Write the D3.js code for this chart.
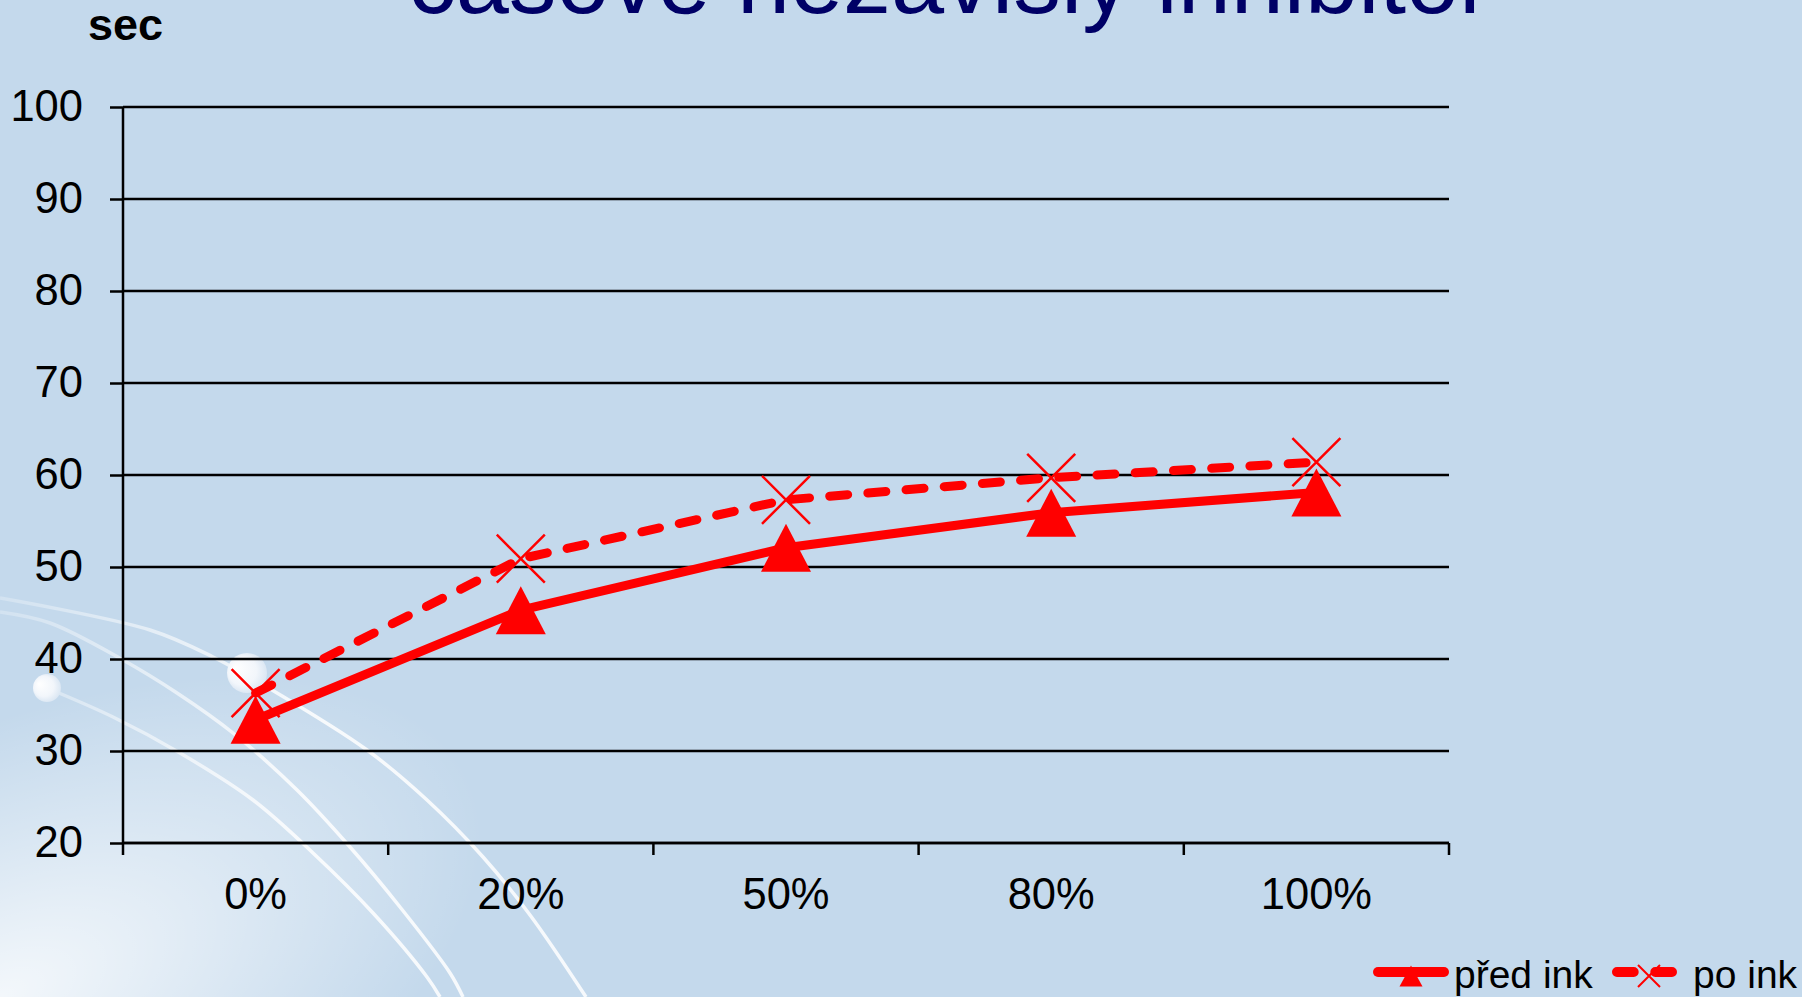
<!DOCTYPE html>
<html>
<head>
<meta charset="utf-8">
<script src="https://cdn.jsdelivr.net/npm/d3@7"></script>
<style>
  html, body { margin: 0; padding: 0; overflow: hidden; background: #C4D9EC; }
  svg { display: block; }
  text { font-family: "Liberation Sans", Arial, sans-serif; }
</style>
</head>
<body>
<svg id="chart" width="1802" height="997"></svg>
<script>
// ---- data ----
const categories = ["0%", "20%", "50%", "80%", "100%"];
const predInk = [33.4, 45.3, 52.1, 55.9, 58.1];
const poInk = [36.3, 50.9, 57.3, 59.7, 61.4];
const yTicks = [20, 30, 40, 50, 60, 70, 80, 90, 100];
const seriesNames = ["před ink", "po ink"];
const titleText = "časově nezávislý inhibitor";
const yUnit = "sec";

// ---- layout ----
const W = 1802, H = 997;
const plot = { left: 123, right: 1449, top: 107, bottom: 843 };
const red = "#FF0000";
const tickFont = 43.5;

const svg = d3.select("#chart");
const defs = svg.append("defs");

// background
svg.append("rect").attr("width", W).attr("height", H).attr("fill", "#C4D9EC");

// soft light corner at bottom-left
const glow = defs.append("radialGradient")
  .attr("id", "cornerGlow")
  .attr("gradientUnits", "userSpaceOnUse")
  .attr("cx", 0).attr("cy", 0).attr("r", 1)
  .attr("gradientTransform", `translate(0,${H}) rotate(-25) scale(520,260)`);
glow.append("stop").attr("offset", 0).attr("stop-color", "#ffffff").attr("stop-opacity", 0.8);
glow.append("stop").attr("offset", 0.55).attr("stop-color", "#ffffff").attr("stop-opacity", 0.35);
glow.append("stop").attr("offset", 1).attr("stop-color", "#ffffff").attr("stop-opacity", 0);
svg.append("rect").attr("width", W).attr("height", H).attr("fill", "url(#cornerGlow)");

// decorative swooshes of the slide background
const swooshes = [
  [[0, 598], [150, 630], [213, 657], [267, 687], [367, 750], [427, 800], [483, 857], [530, 915], [586, 997]],
  [[0, 612], [50, 623], [123, 660], [177, 693], [233, 733], [297, 790], [350, 847], [400, 907], [450, 973], [463, 997]],
  [[47, 688], [113, 717], [180, 753], [253, 800], [313, 853], [373, 913], [427, 977], [440, 997]]
];
const swooshLine = d3.line().curve(d3.curveCatmullRom.alpha(0.5));
const swooshGrad = defs.append("linearGradient").attr("id", "swooshFade")
  .attr("gradientUnits", "userSpaceOnUse").attr("x1", 0).attr("y1", 0).attr("x2", 300).attr("y2", 0);
swooshGrad.append("stop").attr("offset", 0).attr("stop-color", "#ffffff").attr("stop-opacity", 0.25);
swooshGrad.append("stop").attr("offset", 1).attr("stop-color", "#ffffff").attr("stop-opacity", 0.85);
svg.append("g").selectAll("path").data(swooshes).join("path")
  .attr("d", d => swooshLine(d))
  .attr("fill", "none")
  .attr("stroke", "url(#swooshFade)")
  .attr("stroke-width", 3.5);

// small glossy spots
const spot = defs.append("radialGradient").attr("id", "spot")
  .attr("cx", 0.5).attr("cy", 0.5).attr("r", 0.6).attr("fx", 0.2).attr("fy", 0.35);
spot.append("stop").attr("offset", 0).attr("stop-color", "#ffffff");
spot.append("stop").attr("offset", 0.6).attr("stop-color", "#f2f6fb");
spot.append("stop").attr("offset", 1).attr("stop-color", "#d2e1f0");
svg.append("ellipse").attr("cx", 47).attr("cy", 688).attr("rx", 14).attr("ry", 14).attr("fill", "url(#spot)");
svg.append("ellipse").attr("cx", 247).attr("cy", 673).attr("rx", 20).attr("ry", 20).attr("fill", "url(#spot)");

// title (partly above the visible area)
svg.append("text")
  .attr("x", 408).attr("y", 13)
  .attr("font-size", 95.5)
  .attr("fill", "#000066")
  .text(titleText);

// unit label
svg.append("text")
  .attr("x", 88).attr("y", 40)
  .attr("font-size", 45)
  .attr("font-weight", "bold")
  .attr("fill", "#000")
  .text(yUnit);

// ---- scales ----
const x = d3.scaleBand().domain(categories).range([plot.left, plot.right]).padding(0);
const y = d3.scaleLinear().domain([20, 100]).range([plot.bottom, plot.top]);
const cx = c => x(c) + x.bandwidth() / 2;

// gridlines
svg.append("g").selectAll("line").data(yTicks).join("line")
  .attr("x1", plot.left).attr("x2", plot.right)
  .attr("y1", d => y(d)).attr("y2", d => y(d))
  .attr("stroke", "#000").attr("stroke-width", 2.5);

// y axis
const yAxis = svg.append("g")
  .attr("transform", `translate(${plot.left},0)`)
  .call(d3.axisLeft(y).tickValues(yTicks).tickFormat(d3.format("d")).tickSize(13).tickPadding(27));
yAxis.select(".domain").remove();
yAxis.selectAll(".tick line").attr("stroke", "#000").attr("stroke-width", 2.5);
yAxis.selectAll(".tick text").attr("font-size", tickFont).attr("fill", "#000")
  .attr("font-family", '"Liberation Sans", Arial, sans-serif');
svg.append("line")
  .attr("x1", plot.left).attr("x2", plot.left)
  .attr("y1", plot.top).attr("y2", plot.bottom + 12)
  .attr("stroke", "#000").attr("stroke-width", 2.5);

// x axis: labels centred in each category, ticks on category boundaries
const xAxis = svg.append("g")
  .attr("transform", `translate(0,${plot.bottom})`)
  .call(d3.axisBottom(x).tickSize(0).tickPadding(35.5));
xAxis.select(".domain").remove();
xAxis.selectAll(".tick text").attr("font-size", tickFont).attr("fill", "#000")
  .attr("font-family", '"Liberation Sans", Arial, sans-serif');
svg.append("line")
  .attr("x1", plot.left).attr("x2", plot.right)
  .attr("y1", plot.bottom).attr("y2", plot.bottom)
  .attr("stroke", "#000").attr("stroke-width", 2.5);
const bounds = categories.map(c => x(c)).concat([plot.right]);
svg.append("g").selectAll("line").data(bounds.slice(1)).join("line")
  .attr("x1", d => d).attr("x2", d => d)
  .attr("y1", plot.bottom).attr("y2", plot.bottom + 12)
  .attr("stroke", "#000").attr("stroke-width", 2.5);

// ---- series ----
const line = d3.line().x((d, i) => cx(categories[i])).y(d => y(d));
const triPath = (w, h) => `M0,${-h / 2}L${w / 2},${h / 2}L${-w / 2},${h / 2}Z`;
const crossPath = s => `M${-s / 2},${-s / 2}L${s / 2},${s / 2}M${s / 2},${-s / 2}L${-s / 2},${s / 2}`;

// před ink: solid line with triangles
svg.append("path").datum(predInk)
  .attr("d", line)
  .attr("fill", "none").attr("stroke", red).attr("stroke-width", 9)
  .attr("stroke-linejoin", "round");
svg.append("g").selectAll("path").data(predInk).join("path")
  .attr("transform", (d, i) => `translate(${cx(categories[i])},${y(d)})`)
  .attr("d", triPath(50, 48))
  .attr("fill", red);

// po ink: dashed line with crosses
svg.append("path").datum(poInk)
  .attr("d", line)
  .attr("fill", "none").attr("stroke", red).attr("stroke-width", 9)
  .attr("stroke-linecap", "round").attr("stroke-linejoin", "round")
  .attr("stroke-dasharray", "18 20.3");
svg.append("g").selectAll("path").data(poInk).join("path")
  .attr("transform", (d, i) => `translate(${cx(categories[i])},${y(d)})`)
  .attr("d", crossPath(48))
  .attr("fill", "none").attr("stroke", red).attr("stroke-width", 2.5);

// ---- legend ----
const lg = svg.append("g");
const legendY = 972;
lg.append("line").attr("x1", 1378).attr("x2", 1444).attr("y1", legendY).attr("y2", legendY)
  .attr("stroke", red).attr("stroke-width", 10).attr("stroke-linecap", "round");
lg.append("path").attr("transform", `translate(1411,976)`).attr("d", triPath(23, 21)).attr("fill", red);
lg.append("text").attr("x", 1454).attr("y", 988).attr("font-size", 39).attr("fill", "#000").text(seriesNames[0]);

lg.append("line").attr("x1", 1617).attr("x2", 1673).attr("y1", legendY).attr("y2", legendY)
  .attr("stroke", red).attr("stroke-width", 10).attr("stroke-linecap", "round")
  .attr("stroke-dasharray", "16.7 21.6");
lg.append("path").attr("transform", `translate(1649,976)`).attr("d", crossPath(22))
  .attr("fill", "none").attr("stroke", red).attr("stroke-width", 2);
lg.append("text").attr("x", 1693).attr("y", 988).attr("font-size", 39).attr("fill", "#000").text(seriesNames[1]);
</script>
</body>
</html>
